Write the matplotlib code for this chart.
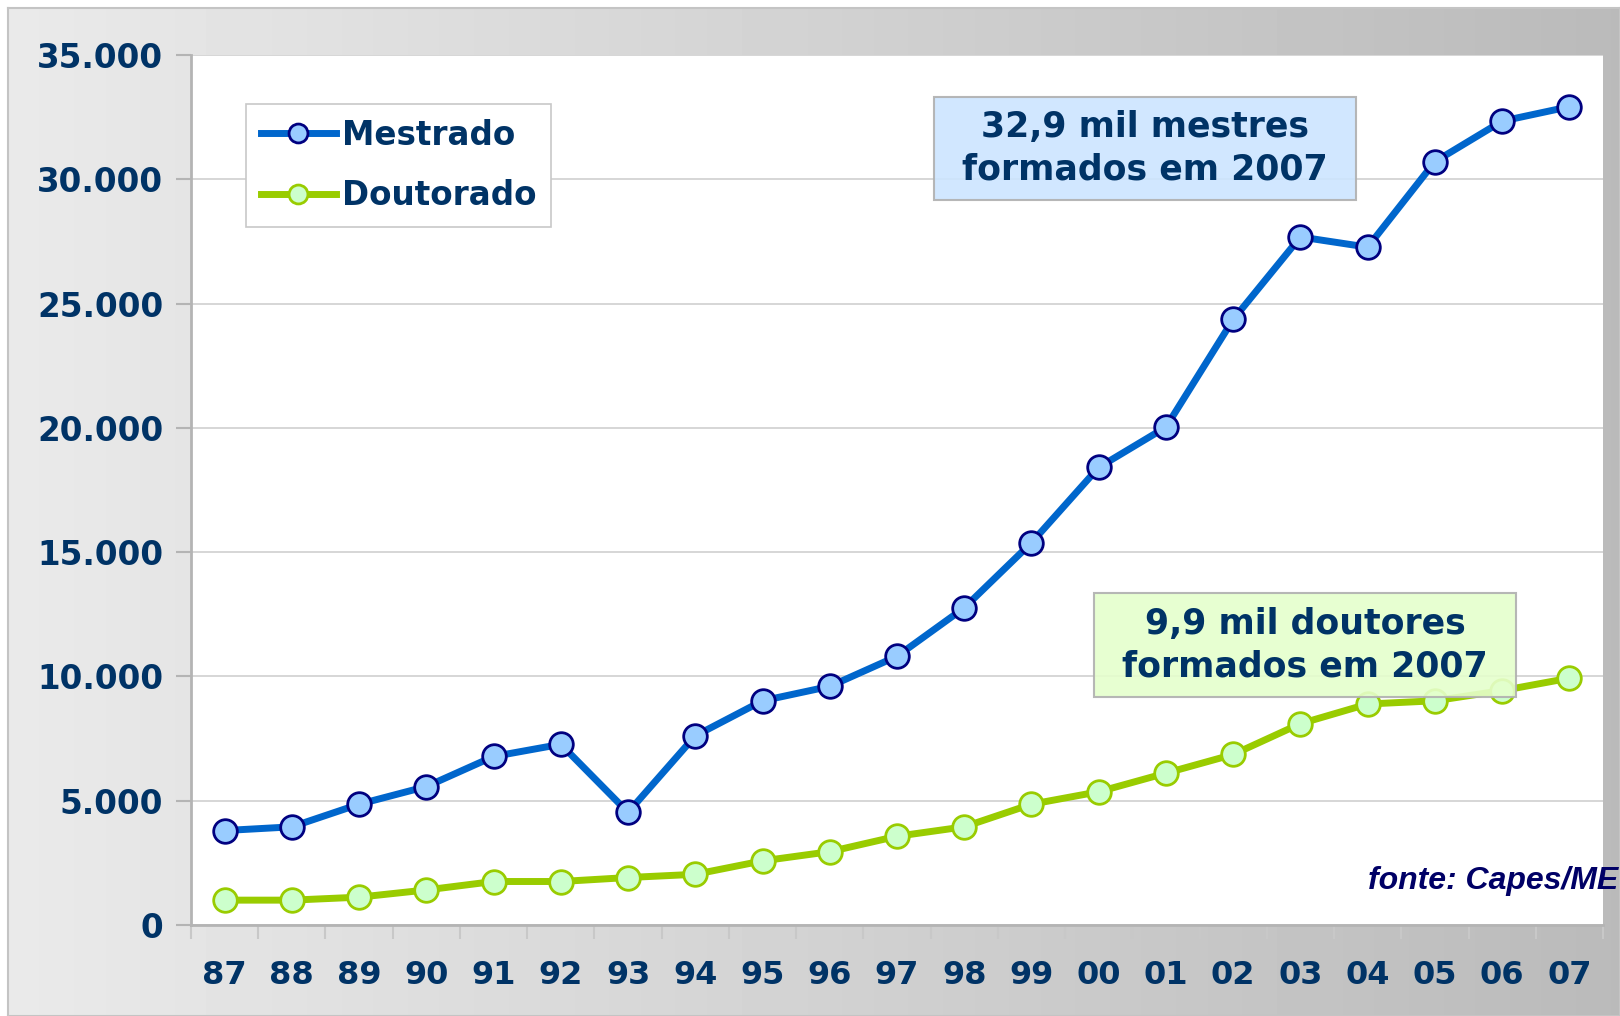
import numpy as np
import matplotlib
matplotlib.use("Agg")
import matplotlib.pyplot as plt
from matplotlib.ticker import FuncFormatter, FixedLocator
from matplotlib.patches import Rectangle

# dados
anos = ["87", "88", "89", "90", "91", "92", "93", "94", "95", "96", "97",
        "98", "99", "00", "01", "02", "03", "04", "05", "06", "07"]
mestrado = [3800, 3950, 4860, 5570, 6780, 7270, 4530, 7610, 9020, 9600, 10810,
            12760, 15380, 18410, 20030, 24360, 27680, 27270, 30710, 32340, 32920]
doutorado = [1000, 1000, 1120, 1410, 1750, 1750, 1910, 2040, 2580, 2950, 3570,
             3950, 4860, 5360, 6110, 6860, 8100, 8890, 9020, 9430, 9930]
y_ticks = [0, 5000, 10000, 15000, 20000, 25000, 30000, 35000]

txt = "#003366"
W, H = 1620, 1016

fig = plt.figure(figsize=(W / 100, H / 100), dpi=100)
fig.patch.set_facecolor("white")

# fundo com degrade
bg = fig.add_axes([8 / W, 0, 1 - 8 / W, 1 - 8 / H])
grad = np.linspace(234, 186, 512) / 255.0
bg.imshow(np.tile(grad, (2, 1)), cmap="gray", vmin=0, vmax=1, aspect="auto",
          extent=[0, 1, 0, 1])
bg.set_xticks([])
bg.set_yticks([])
for s in bg.spines.values():
    s.set_color("#c4c4c4")
    s.set_linewidth(1.5)
bg.set_zorder(-10)

ax = fig.add_axes([191 / W, 1 - 925 / H, (1603 - 191) / W, (925 - 55) / H])
ax.set_facecolor("white")
ax.set_zorder(1)

x = np.arange(len(anos))
ax.plot(x, mestrado, color="#0066cc", lw=5, marker="o", ms=17,
        mfc="#99ccff", mec="#000080", mew=2, label="Mestrado", zorder=4)
ax.plot(x, doutorado, color="#99cc00", lw=5, marker="o", ms=17,
        mfc="#ccffcc", mec="#99cc00", mew=2, label="Doutorado", zorder=3)

ax.set_xlim(-0.5, len(anos) - 0.5)
ax.set_ylim(0, 35000)
ax.set_yticks(y_ticks)
ax.yaxis.set_major_formatter(FuncFormatter(lambda v, p: f"{int(v):,}".replace(",", ".")))
ax.set_xticks(x)
ax.set_xticklabels(anos)
ax.xaxis.set_minor_locator(FixedLocator(np.arange(-0.5, len(anos), 1.0)))

ax.grid(axis="y", color="#d0d0d0", lw=1.2)
ax.set_axisbelow(True)
ax.tick_params(axis="y", length=11, width=1.5, color="#b4b4b4", pad=9,
               labelsize=23.5, labelcolor=txt)
ax.tick_params(axis="x", which="major", length=0, pad=25, labelsize=23,
               labelcolor=txt)
ax.tick_params(axis="x", which="minor", length=10, width=1.5, color="#c8c8c8")
for lab in ax.get_xticklabels() + ax.get_yticklabels():
    lab.set_fontweight("bold")

for s in ["top", "right"]:
    ax.spines[s].set_visible(False)
for s in ["left", "bottom"]:
    ax.spines[s].set_color("#b4b4b4")
    ax.spines[s].set_linewidth(2)

leg = ax.legend(loc="upper left", bbox_to_anchor=(246 / W, 1 - 104 / H),
                bbox_transform=fig.transFigure, prop={"size": 23.5, "weight": "bold"},
                handlelength=2.3, handletextpad=0.2, labelspacing=0.85,
                borderpad=0.45, borderaxespad=0, markerscale=0.8,
                fancybox=False, framealpha=1)
leg.get_frame().set_edgecolor("#c8c8c8")
leg.get_frame().set_linewidth(1.2)
for t in leg.get_texts():
    t.set_color(txt)

# caixas de destaque
caixas = [
    ((934, 97, 1356, 200), "#cce5ff", "32,9 mil mestres\nformados em 2007"),
    ((1094, 593, 1516, 697), "#e5ffcc", "9,9 mil doutores\nformados em 2007"),
]
for (x0, y0, x1, y1), cor, texto in caixas:
    fig.patches.append(Rectangle((x0 / W, 1 - y1 / H), (x1 - x0) / W, (y1 - y0) / H,
                                 transform=fig.transFigure, facecolor=cor, alpha=0.9,
                                 edgecolor="#b0b0b0", lw=1.5, zorder=5))
    fig.text((x0 + x1) / 2 / W, 1 - (y0 + y1) / 2 / H, texto, ha="center",
             va="center", fontsize=25, fontweight="bold", color=txt,
             linespacing=1.3, zorder=6)

fig.text(1618 / W, 1 - 889 / H, "fonte: Capes/ME", ha="right", va="baseline",
         fontsize=23, fontweight="bold", fontstyle="italic",
         family="Liberation Sans", color="#000066", zorder=6)

fig.savefig("out.png", dpi=100)
